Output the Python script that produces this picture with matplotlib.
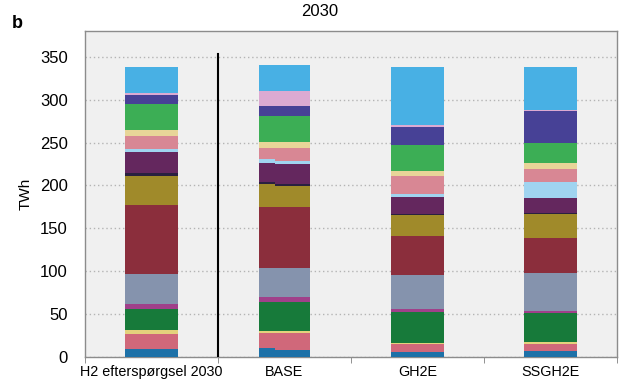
import matplotlib
matplotlib.use("Agg")
import matplotlib.pyplot as plt
import numpy as np

plt.rcParams['font.family'] = ['Liberation Sans', 'DejaVu Sans']

categories = ["H2 efterspørgsel 2030", "BASE", "GH2E", "SSGH2E"]

# Segment colours, bottom to top
colors = ["#1d71a8", "#d0687a", "#e4d27c", "#177a3a", "#a0408a", "#8593ad",
          "#8b2e3c", "#a08a2a", "#2a2040", "#64275e", "#a0d4f0", "#d88794",
          "#e8d598", "#3cae55", "#474196", "#dcaad2", "#48b0e4"]

# TWh per segment, bottom to top
h2_demand = [8.9, 17.5, 4.6, 25.2, 5.8, 35.3, 80.2, 33.5, 3.0, 25.0, 3.0,
             15.4, 6.9, 30.3, 10.4, 3.0, 29.6]
base_left = [10.9, 17.5, 2.0, 33.4, 5.8, 34.6, 70.5, 26.8, 2.7, 21.8, 4.3,
             13.2, 6.6, 30.3, 12.5, 17.5, 30.3]
base_right = [8.6, 19.6, 1.6, 34.0, 5.8, 34.6, 70.5, 24.8, 2.4, 22.5, 3.5,
              15.6, 6.6, 30.3, 12.5, 17.5, 30.3]
gh2e = [6.2, 8.5, 2.0, 35.6, 3.1, 40.7, 44.6, 24.4, 1.6, 20.1, 2.7, 21.0,
        6.5, 30.3, 21.3, 1.6, 67.4]
ssgh2e = [6.6, 8.1, 2.3, 33.8, 2.3, 45.0, 40.3, 27.9, 1.5, 17.9, 18.2, 15.1,
          7.7, 22.5, 37.6, 1.6, 49.2]

fig = plt.figure(figsize=(6.19, 3.85), dpi=100)
ax = fig.add_axes([85/619, 1-357/385, 532/619, 326/385])
ax.set_facecolor("#f0f0f0")

width = 0.4
split = 0.12  # width of the left slice of the BASE column


def stack(x, vals, w):
    bottom = 0.0
    for v, c in zip(vals, colors):
        ax.bar(x, v, width=w, bottom=bottom, color=c, align='edge',
               linewidth=0, zorder=3)
        bottom += v


stack(0 - width/2, h2_demand, width)
stack(1 - 0.195, base_left, split)
stack(1 - 0.195 + split, base_right, 0.39 - split)
stack(2 - width/2, gh2e, width)
stack(3 - width/2, ssgh2e, width)

ax.set_xlim(-0.5, 3.5)
ax.set_ylim(0, 380)
ax.set_yticks(np.arange(0, 351, 50))
ax.set_xticks(range(len(categories)))
ax.set_xticklabels(categories, fontsize=10.4)
ax.set_xticks(np.arange(-0.5, 3.6, 1), minor=True)
ax.tick_params(axis='x', which='major', length=0, pad=6)
ax.tick_params(axis='x', which='minor', length=4, color="#808080")
ax.tick_params(axis='y', length=0, labelsize=12, pad=12.5)
ax.set_ylabel("TWh", fontsize=11, labelpad=5)

ax.yaxis.grid(True, linestyle=(0, (1, 2)), color="#b4b4b4", linewidth=1,
              zorder=0)
ax.set_axisbelow(True)
for s in ax.spines.values():
    s.set_color("#8c8c8c")
    s.set_linewidth(1)

# divider between the demand column and the scenarios
ax.plot([0.5, 0.5], [0, 353], color="black", linewidth=1.5, zorder=4)

fig.text(320/619, 1-12/385, "2030", ha="center", va="center", fontsize=12)
fig.text(12/619, 1-24/385, "b", ha="left", va="center", fontsize=13,
         fontweight="bold")

fig.savefig("out.png", dpi=100)
